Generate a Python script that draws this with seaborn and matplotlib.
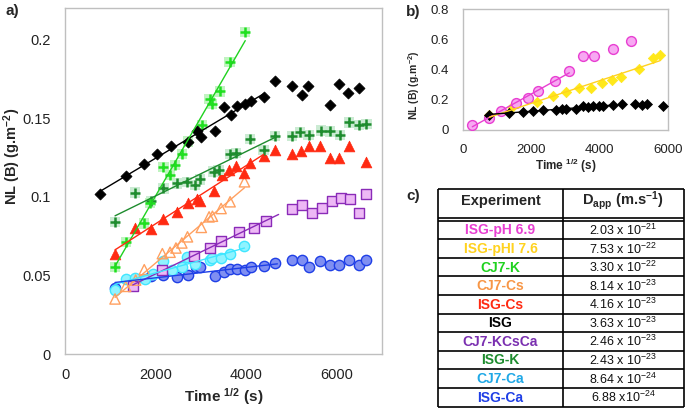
import numpy as np
import matplotlib
matplotlib.use("Agg")
import matplotlib.pyplot as plt
import seaborn as sns

# ---------------- data: panel a ----------------
ISG_t = [774, 1341, 1747, 2041, 2336, 2712, 2911, 3007, 3309, 3501, 3670, 3803, 3980, 4105, 4385,
         4643, 5019, 5225, 5373, 5859, 6058, 6257, 6500]
ISG_nl = [0.1015, 0.1134, 0.1209, 0.1272, 0.1323, 0.1347, 0.1419, 0.1381, 0.1419, 0.1568, 0.1521, 0.1574,
          0.1591, 0.1606, 0.1632, 0.1734, 0.1702, 0.1645, 0.1706, 0.1585, 0.1717, 0.1657, 0.1694]

CJ7K_t = [1105, 1341, 1752, 1878, 2172, 2320, 2431, 2580, 2712, 3022, 3191, 3243, 3427, 3633, 3980]
CJ7K_nl = [0.0555, 0.0712, 0.083, 0.0961, 0.1191, 0.1138, 0.1202, 0.1272, 0.1351, 0.1457, 0.1621, 0.1591,
           0.167, 0.1857, 0.2047]

ISGK_t = [1105, 1547, 1900, 2172, 2468, 2689, 2873, 2983, 3280, 3390, 3648, 3781, 4090, 4385, 4643, 5011,
          5196, 5380, 5653, 5859, 6066, 6264, 6486, 6655]
ISGK_nl = [0.0838, 0.1026, 0.0974, 0.1053, 0.1085, 0.1095, 0.1074, 0.111, 0.116, 0.117, 0.1272, 0.1277,
           0.1366, 0.1298, 0.1387, 0.1387, 0.1409, 0.1394, 0.1421, 0.1415, 0.1394, 0.1472, 0.1457, 0.1462]

ISGCs_t = [1105, 1548, 1901, 2174, 2469, 2712, 2911, 2985, 3300, 3457, 3619, 3781, 3950, 4075, 4385, 4643,
           5019, 5218, 5380, 5638, 5859, 6058, 6264, 6655]
ISGCs_nl = [0.0638, 0.0802, 0.0796, 0.086, 0.0902, 0.0957, 0.0985, 0.0975, 0.1035, 0.1138, 0.117, 0.1196,
            0.1149, 0.1213, 0.1258, 0.13, 0.1272, 0.129, 0.1324, 0.1321, 0.1244, 0.1247, 0.1323, 0.122]

CJ7Cs_t = [1105, 1340, 1560, 1750, 2150, 2320, 2450, 2580, 2705, 3010, 3182, 3256, 3447, 3646, 3963]
CJ7Cs_nl = [0.035, 0.043, 0.047, 0.0536, 0.0638, 0.0647, 0.0674, 0.0706, 0.0745, 0.0805, 0.0872, 0.0876,
            0.0925, 0.0968, 0.1095]

CJ7KCsCa_t = [1496, 2137, 2859, 3191, 3442, 3847, 4164, 4437, 5019, 5240, 5454, 5675, 5896, 6095, 6301,
              6500, 6655]
CJ7KCsCa_nl = [0.0434, 0.0536, 0.0621, 0.0674, 0.0717, 0.0777, 0.0802, 0.0845, 0.0919, 0.0945, 0.0898,
               0.093, 0.0972, 0.0994, 0.0987, 0.0898, 0.1019]

CJ7Ca_t = [1105, 1348, 1548, 1769, 1953, 2174, 2358, 2580, 2690, 2873, 3204, 3256, 3447, 3646, 3963]
CJ7Ca_nl = [0.0408, 0.0477, 0.0483, 0.0477, 0.0509, 0.0594, 0.0536, 0.0553, 0.0617, 0.0574, 0.06, 0.061,
            0.061, 0.0638, 0.0685]

ISGCa_t = [1105, 1547, 1900, 2172, 2468, 2711, 2896, 2985, 3317, 3501, 3648, 3795, 3980, 4105, 4385, 4643,
           5019, 5225, 5380, 5638, 5859, 6058, 6264, 6500, 6655]
ISGCa_nl = [0.0419, 0.0479, 0.0494, 0.0505, 0.049, 0.0502, 0.0553, 0.0555, 0.0494, 0.0521, 0.054, 0.054,
            0.0536, 0.0553, 0.0557, 0.0579, 0.0596, 0.0596, 0.0551, 0.0589, 0.0564, 0.0564, 0.0596, 0.0564,
            0.0596]

# ---------------- data: panel b ----------------
pH69_t = [281, 778, 1110, 1556, 1916, 2190, 2695, 3113, 3504, 3834, 4398, 4914]
pH69_nl = [0.033, 0.078, 0.129, 0.182, 0.215, 0.256, 0.327, 0.393, 0.493, 0.493, 0.538, 0.589]

pHI76_t = [778, 1431, 2161, 2628, 3016, 3405, 3738, 4059, 4351, 4622, 5139, 5548, 5761]
pHI76_nl = [0.10, 0.155, 0.189, 0.227, 0.249, 0.278, 0.278, 0.311, 0.333, 0.351, 0.407, 0.478, 0.50]

# ---------------- data: panel c ----------------
experiments = ["ISG-pH 6.9", "ISG-pHI 7.6", "CJ7-K", "CJ7-Cs", "ISG-Cs", "ISG", "CJ7-KCsCa",
               "ISG-K", "CJ7-Ca", "ISG-Ca"]
dapp_mant = ["2.03", "7.53", "3.30", "8.14", "4.16", "3.63", "2.46", "2.43", "8.64", "6.88"]
dapp_exp = [-21, -22, -22, -23, -23, -23, -23, -23, -24, -24]
exp_colors = ["#E83FD2", "#FFD21F", "#1FD21F", "#F79646", "#FF2A12", "#000000", "#7A2FB0",
              "#1E8C2E", "#1FA8E6", "#1F3FE6"]

# ---------------- style ----------------
sns.set_style("white")
plt.rcParams['font.family'] = ['Liberation Sans', 'DejaVu Sans']
plt.rcParams['mathtext.fontset'] = 'custom'
plt.rcParams['mathtext.rm'] = 'Liberation Sans'
plt.rcParams['mathtext.bf'] = 'Liberation Sans:bold'
plt.rcParams['mathtext.it'] = 'Liberation Sans:italic'

FRAME = "#BFBFBF"

fig = plt.figure(figsize=(6.85, 4.08), dpi=100)
W, H = 685.0, 408.0


def px_axes(l, t, r, b):
    return fig.add_axes([l / W, 1 - b / H, (r - l) / W, (b - t) / H])


def style_frame(ax, fs, pad):
    for s in ax.spines.values():
        s.set_visible(True)
        s.set_color(FRAME)
        s.set_linewidth(1.0)
    ax.tick_params(axis='both', which='both', direction='out', length=3, width=0.8,
                   color=FRAME, labelsize=fs, pad=pad, labelcolor="#222222")
    ax.grid(False)


def fit(ax, t, nl, n, color, x_end=None, lw=1.0):
    tt = np.asarray(t[:n], float)
    yy = np.asarray(nl[:n], float)
    p = np.polyfit(tt, yy, 1)
    xs = np.array([tt.min(), tt.max() if x_end is None else x_end])
    sns.lineplot(x=xs, y=np.polyval(p, xs), ax=ax, color=color, lw=lw, zorder=5)


def sc(ax, t, nl, **kw):
    sns.scatterplot(x=t, y=nl, ax=ax, legend=False, **kw)


# ---------------- panel a ----------------
axA = px_axes(65, 8, 382, 354)
sc(axA, ISGCa_t, ISGCa_nl, marker='o', s=55, color="#7F8FF2", edgecolor="#1F3FE6", linewidth=1.0, zorder=3)
sc(axA, CJ7Ca_t, CJ7Ca_nl, marker='o', s=55, color="#8FF3FF", edgecolor="#40E6FF", linewidth=1.0, zorder=3)
sc(axA, CJ7KCsCa_t, CJ7KCsCa_nl, marker='s', s=50, color="#EDB8F5", edgecolor="#8A2BB8", linewidth=1.0, zorder=3)
sc(axA, CJ7Cs_t, CJ7Cs_nl, marker='^', s=55, facecolor='none', edgecolor="#FFA060", linewidth=1.0, zorder=3)
sc(axA, ISGCs_t, ISGCs_nl, marker='^', s=60, color="#FF2A12", edgecolor="#FF2A12", linewidth=0.5, zorder=3)
sc(axA, ISGK_t, ISGK_nl, marker='s', s=55, color="#CBEBD3", edgecolor='none', zorder=3)
sc(axA, ISGK_t, ISGK_nl, marker='+', s=60, color="#1E8C2E", linewidth=1.8, zorder=4)
sc(axA, CJ7K_t, CJ7K_nl, marker='s', s=55, color="#C0F4C0", edgecolor='none', zorder=3)
sc(axA, CJ7K_t, CJ7K_nl, marker='+', s=60, color="#1FE01F", linewidth=1.8, zorder=4)
sc(axA, ISG_t, ISG_nl, marker='D', s=32, color="#000000", edgecolor="#000000", linewidth=0.5, zorder=4)

fit(axA, ISG_t, ISG_nl, 15, "#000000")
fit(axA, CJ7K_t, CJ7K_nl, len(CJ7K_t), "#1FD21F")
fit(axA, ISGK_t, ISGK_nl, 15, "#1E8C2E")
fit(axA, ISGCs_t, ISGCs_nl, 15, "#FF2A12")
fit(axA, CJ7Cs_t, CJ7Cs_nl, len(CJ7Cs_t), "#FFA060")
fit(axA, CJ7KCsCa_t, CJ7KCsCa_nl, 8, "#8A2BB8", x_end=4717)
fit(axA, CJ7Ca_t, CJ7Ca_nl, len(CJ7Ca_t), "#40E6FF")
fit(axA, ISGCa_t, ISGCa_nl, 16, "#1F3FE6", x_end=4690)

axA.set_xlim(0, 7000)
axA.set_ylim(0, 0.22)
axA.set_xticks([0, 2000, 4000, 6000])
axA.set_yticks([0, 0.05, 0.1, 0.15, 0.2])
axA.set_yticklabels(["0", "0.05", "0.1", "0.15", "0.2"])
style_frame(axA, 10.5, 7)
axA.set_xlabel(r"Time $^{\mathbf{1/2}}$ (s)", fontsize=11, fontweight='bold')
axA.set_ylabel(r"NL (B) (g.m$^{\mathbf{-2}}$)", fontsize=10.5, fontweight='bold')
axA.xaxis.set_label_coords(0.5, -0.092)
axA.yaxis.set_label_coords(-0.133, 0.57)

# ---------------- panel b ----------------
axB = px_axes(462.7, 9.5, 668.3, 130)
ISGb_t = [t for t in ISG_t if t <= 6000]
ISGb_nl = [v for t, v in zip(ISG_t, ISG_nl) if t <= 6000]
sc(axB, pHI76_t, pHI76_nl, marker='D', s=28, color="#FFE81A", edgecolor="#FFE81A", linewidth=0.5, zorder=3)
sc(axB, pH69_t, pH69_nl, marker='o', s=50, color="#F7A8F2", edgecolor="#E83FD2", linewidth=1.0, zorder=3)
sc(axB, ISGb_t, ISGb_nl, marker='D', s=26, color="#000000", edgecolor="#000000", linewidth=0.5, zorder=4)
fit(axB, pH69_t, pH69_nl, 8, "#E83FD2")
fit(axB, pHI76_t, pHI76_nl, len(pHI76_t), "#FFD21F")
fit(axB, ISG_t, ISG_nl, 15, "#000000")
axB.set_xlim(0, 6000)
axB.set_ylim(0, 0.8)
axB.set_xticks([0, 2000, 4000, 6000])
axB.set_yticks([0, 0.2, 0.4, 0.6, 0.8])
axB.set_yticklabels(["0", "0.2", "0.4", "0.6", "0.8"])
style_frame(axB, 9.5, 7)
axB.set_xlabel(r"Time $^{\mathbf{1/2}}$ (s)", fontsize=8.5, fontweight='bold')
axB.set_ylabel(r"NL (B) (g.m$^{\mathbf{-2}}$)", fontsize=7.5, fontweight='bold')
axB.xaxis.set_label_coords(0.502, -0.225)
axB.yaxis.set_label_coords(-0.2, 0.37)

# ---------------- panel c (table) ----------------
axC = px_axes(430, 183, 685, 408)
axC.set_xlim(430, 685)
axC.set_ylim(408, 183)
axC.axis('off')
tl, tm, tr = 438.3, 562.7, 683.5
ttop, hbot1, hbot2, tbot = 189.3, 218.0, 220.5, 406.5
nrow = len(experiments)
rh = (tbot - hbot2) / nrow
lk = dict(color='black', lw=1.2, solid_capstyle='butt')
for x in (tl, tm, tr):
    axC.plot([x, x], [ttop, tbot], **lk)
for y in (ttop, hbot1, hbot2, tbot):
    axC.plot([tl, tr], [y, y], **lk)
for i in range(1, nrow):
    y = hbot2 + i * rh
    axC.plot([tl, tr], [y, y], **lk)
axC.text((tl + tm) / 2, 200.5, "Experiment", ha='center', va='center', fontsize=10.5, fontweight='bold')
axC.text((tm + tr) / 2, 200.5, r"D$_{\mathbf{app}}$ (m.s$^{\mathbf{-1}}$)", ha='center', va='center',
         fontsize=10.5, fontweight='bold')
for i, (name, m, e, c) in enumerate(zip(experiments, dapp_mant, dapp_exp, exp_colors)):
    yc = hbot2 + (i + 0.5) * rh
    axC.text((tl + tm) / 2, yc + 0.5, name, ha='center', va='center', fontsize=10, fontweight='bold', color=c)
    sep = " x " if name != "ISG-Ca" else " x"
    axC.text((tm + tr) / 2, yc + 0.5, m + sep + "10$^{%d}$" % e, ha='center', va='center', fontsize=9,
             color="#111111")

# ---------------- panel letters ----------------
fig.text(5 / W, 1 - 11 / H, "a)", fontsize=11, fontweight='bold', va='center', ha='left')
fig.text(406 / W, 1 - 12 / H, "b)", fontsize=11, fontweight='bold', va='center', ha='left')
fig.text(406 / W, 1 - 196 / H, "c)", fontsize=11, fontweight='bold', va='center', ha='left')

fig.savefig("out.png", dpi=100)
